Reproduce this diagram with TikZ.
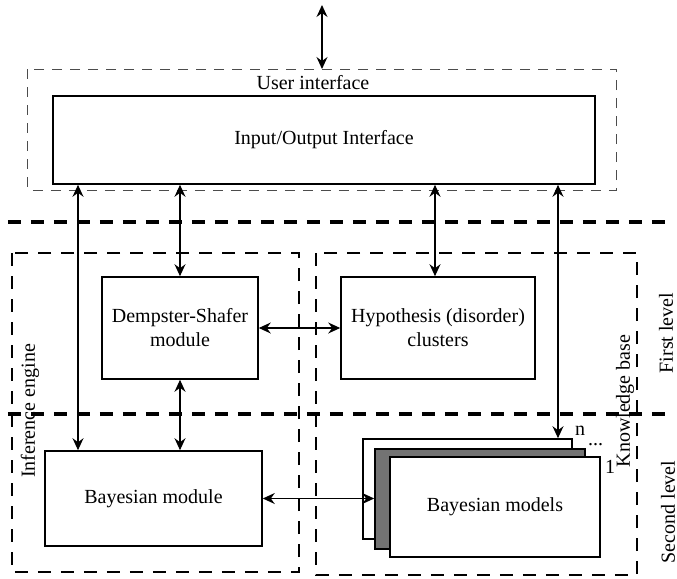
\documentclass[tikz,border=0pt]{standalone}
\usepackage{fontspec}
\setmainfont{Liberation Serif}
\usetikzlibrary{arrows.meta, positioning}

\begin{document}
\begin{tikzpicture}[x=0.5pt, y=-0.5pt, font=\fontsize{10}{12}\selectfont]
	\tikzset{>={Stealth[length=6pt, width=5.5pt, inset=2pt]}, link/.style={<->, line width=0.6pt},
		box/.style={draw, line width=0.8pt, fill=white, align=center, inner sep=0pt},
		area/.style={line width=0.6pt, dash pattern=on 6.5pt off 5pt},
		level/.style={line width=1.6pt, dash pattern=on 6.5pt off 5pt},
		side/.style={rotate=90, inner sep=0pt}}
	\useasboundingbox (0,0) rectangle (677,579);

	% dashed areas and level lines
	\draw[area, black!70, line width=0.5pt, dash pattern=on 5pt off 4pt] (28,69) rectangle (617,190);
	\draw[area] (12,253) rectangle (299,572);
	\draw[area] (316,253) rectangle (637,575);
	\draw[level] (8,222) -- (672,222);
	\draw[level] (8,414) -- (672,414);

	% boxes
	\node[box, minimum width=271pt, minimum height=44pt] (io) at (324,140) {Input/Output Interface};
	\node[box, minimum width=78pt, minimum height=51pt] (ds) at (180,328) {Dempster-Shafer\\module};
	\node[box, minimum width=97pt, minimum height=51pt] (hyp) at (438,328) {Hypothesis (disorder)\\clusters};
	\node[box, minimum width=108.5pt, minimum height=47.5pt] (bm) at (153.5,498.5) {Bayesian module};
	\node[box, minimum width=104.5pt, minimum height=50pt] (mn) at (467.5,489) {};
	\node[box, fill=black!55, minimum width=105pt, minimum height=50pt] (mk) at (480,499) {};
	\node[box, minimum width=105pt, minimum height=50pt] (m1) at (495,507) {Bayesian models};
	\node[anchor=south west, inner sep=1pt] (n) at (mn.north east) {n};
	\node[anchor=south west, inner sep=1pt] (dots) at (mk.north east) {...};
	\node[anchor=north west, inner sep=2pt] (one) at (m1.north east) {1};

	% labels
	\node (ui) at (313,83) {User interface};
	\node[side] (ie) at (30,411) {Inference engine};
	\node[side] (kb) at (625,401) {Knowledge base};
	\node[side] (fl) at (666,333) {First level};
	\node[side] (sl) at (668,512) {Second level};

	% connectors
	\coordinate (top) at (322,5);
	\coordinate (xa) at (78,0);
	\coordinate (xb) at (180,0);
	\coordinate (xc) at (435,0);
	\coordinate (xd) at (558,0);
	\draw[link] (top) -- (top |- 0,69);
	\draw[link] (io.south -| xa) -- (bm.north -| xa);
	\draw[link] (io.south -| xb) -- (ds.north);
	\draw[link] (ds.south) -- (bm.north -| xb);
	\draw[link] (io.south -| xc) -- (hyp.north -| xc);
	\draw[link] (io.south -| xd) -- (mn.north -| xd);
	\draw[link] (ds.east) -- (hyp.west);
	\draw[link] (bm.east) -- (mk.west |- bm.east);
\end{tikzpicture}
\end{document}
